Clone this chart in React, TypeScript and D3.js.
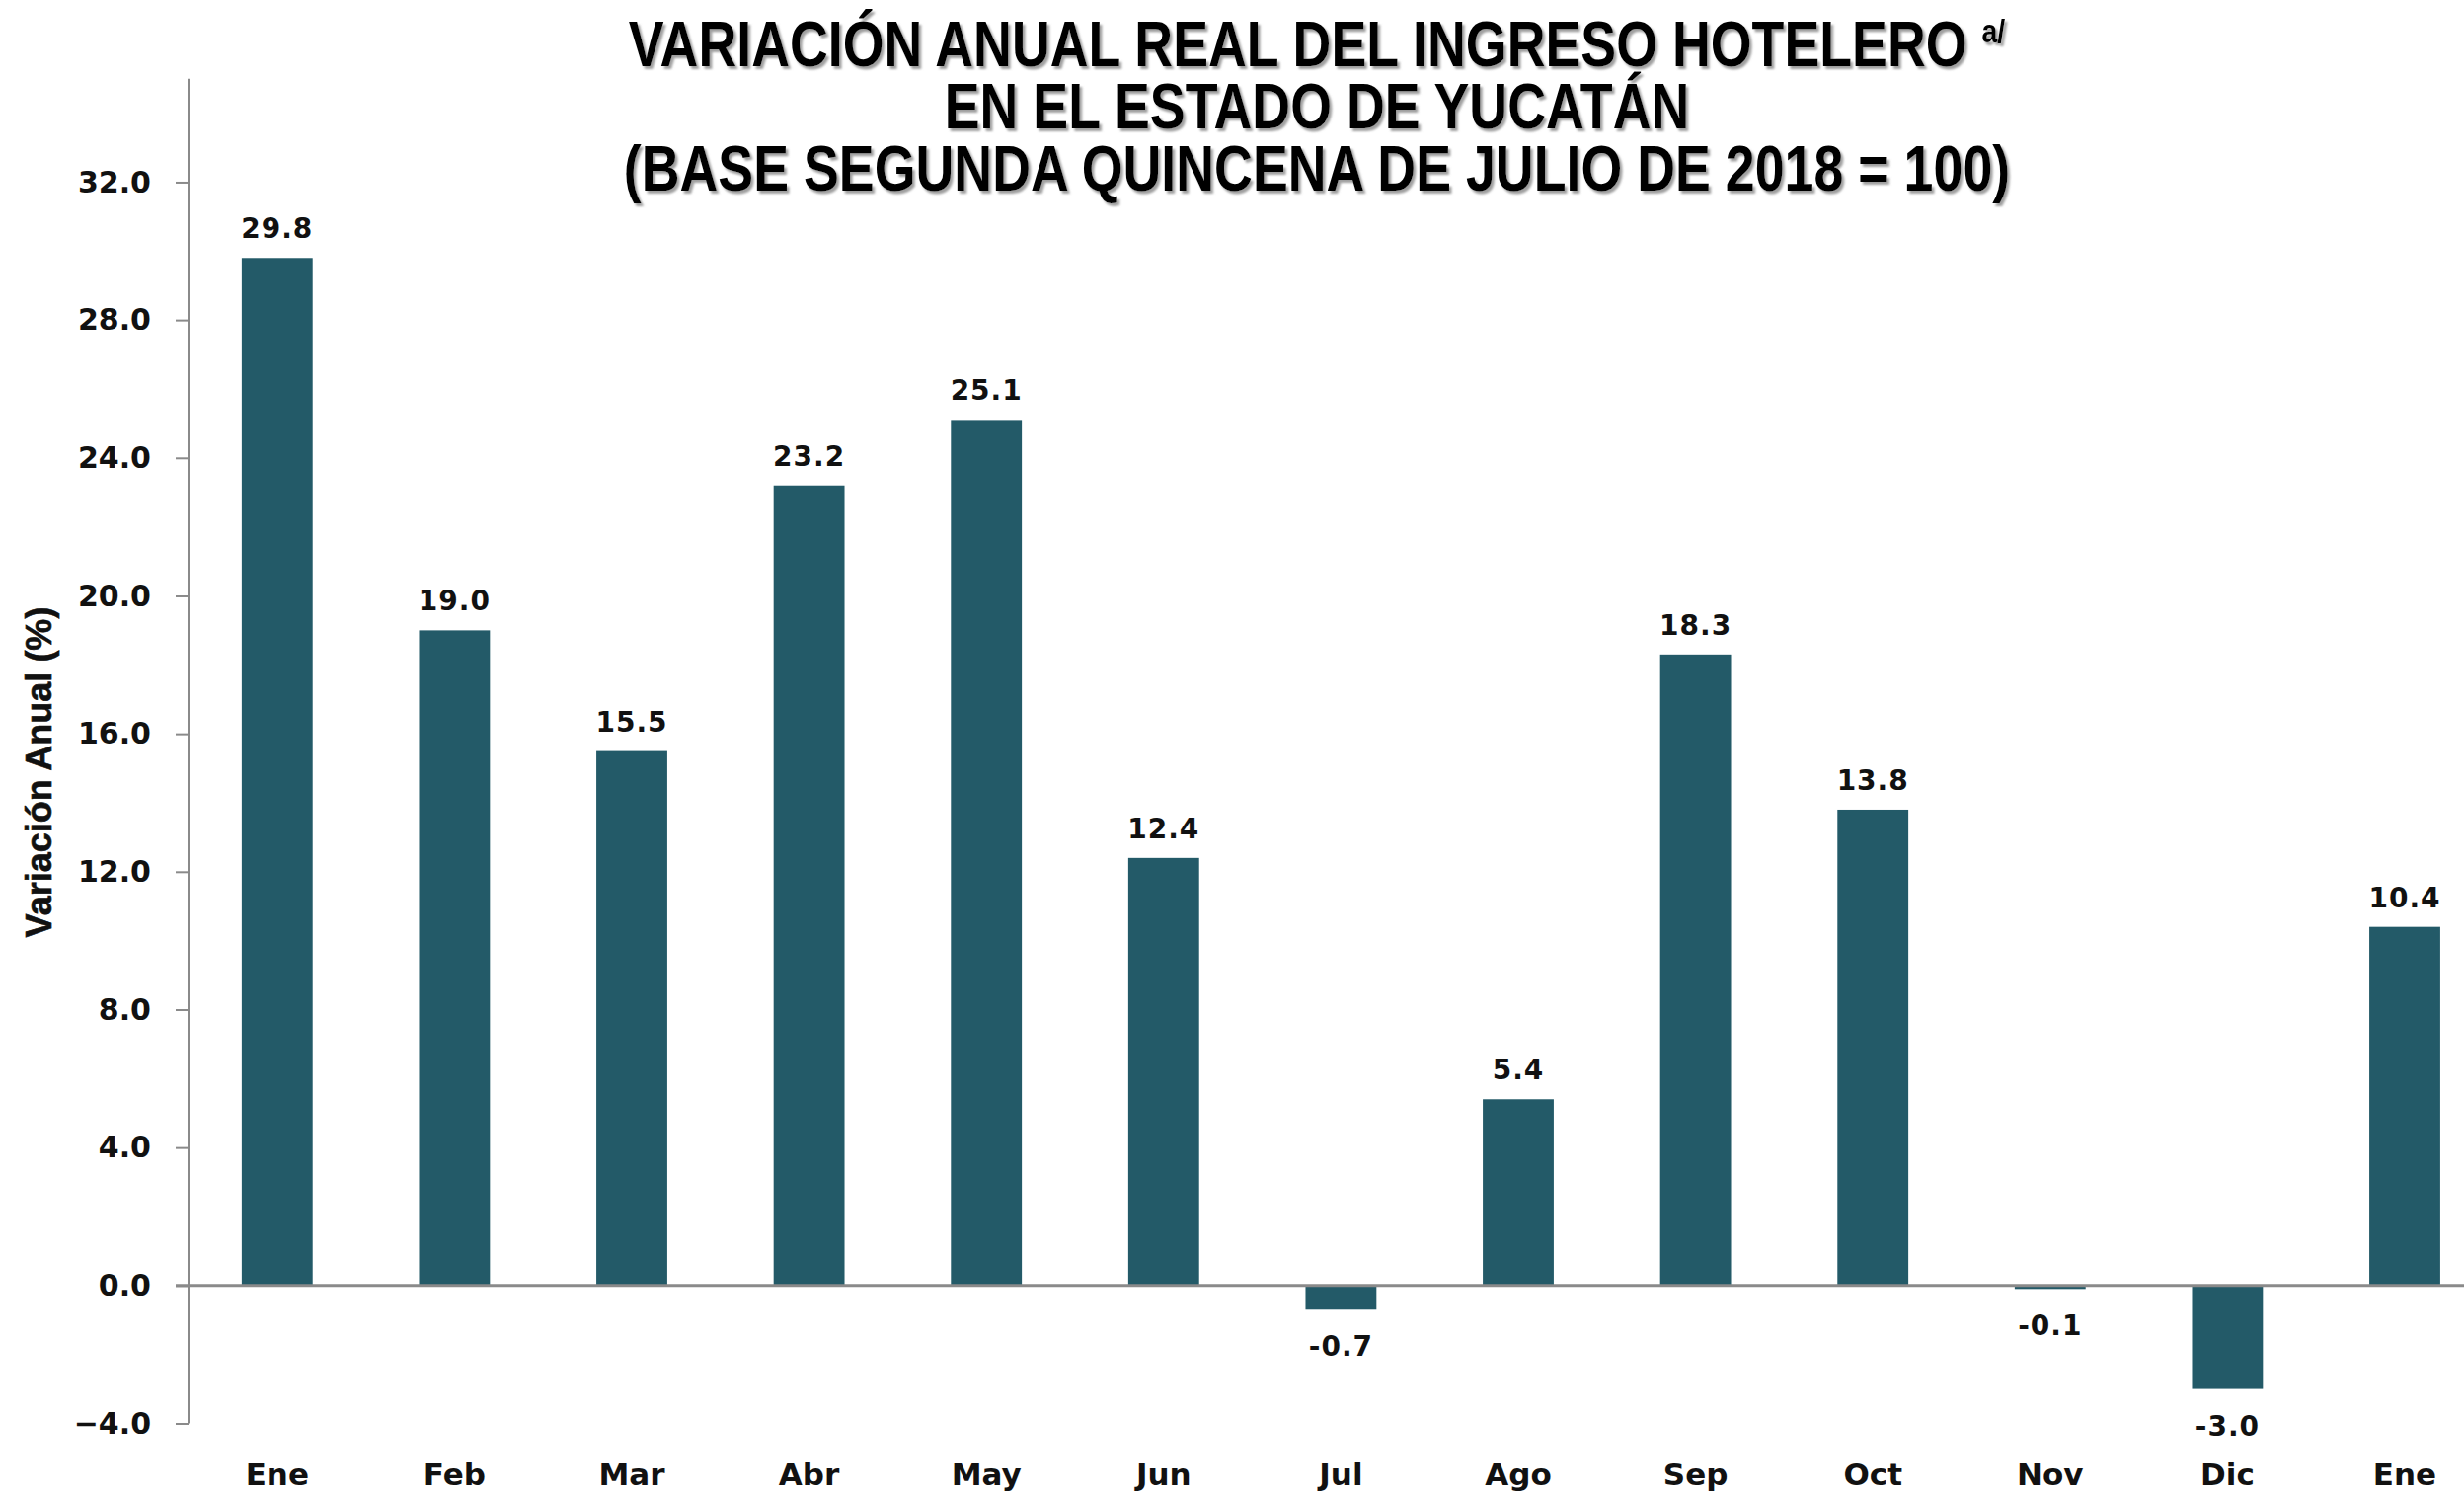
import React, { useEffect, useRef } from 'react';
import * as d3 from 'd3';

// data
const months = ['Ene', 'Feb', 'Mar', 'Abr', 'May', 'Jun', 'Jul', 'Ago', 'Sep', 'Oct', 'Nov', 'Dic', 'Ene'];
const values = [29.8, 19.0, 15.5, 23.2, 25.1, 12.4, -0.7, 5.4, 18.3, 13.8, -0.1, -3.0, 10.4];
const yTicks = [-4, 0, 4, 8, 12, 16, 20, 24, 28, 32];
const titleLines = ['EN EL ESTADO DE YUCATÁN', '(BASE SEGUNDA QUINCENA DE JULIO DE 2018 = 100)'];

const BAR = '#235a68';
const NUM_FONT = '"DejaVu Sans", sans-serif';
const TITLE_FONT = '"Liberation Sans", Arial, sans-serif';

const App = () => {
  const svgRef = useRef<SVGSVGElement | null>(null);

  useEffect(() => {
    document.body.style.margin = '0';
    const svg = d3.select(svgRef.current);
    svg.selectAll('*').remove();
    const width = 2496;
    const height = 1513;
    const axisX = 191;

    const idx = months.map((_, i) => String(i));
    const x = d3.scaleBand()
      .domain(idx)
      .range([axisX, axisX + 13 * 179.6])
      .paddingInner(0.6)
      .paddingOuter(0.3);

    const y = d3.scaleLinear()
      .domain([-4, 35])
      .range([1441.5, 79.7]);

    // shadow for the title
    svg.append('defs').append('filter')
      .attr('id', 'tshadow')
      .attr('x', '-5%').attr('y', '-20%').attr('width', '110%').attr('height', '140%')
      .append('feDropShadow')
        .attr('dx', 3).attr('dy', 3).attr('stdDeviation', 1)
        .attr('flood-color', '#888').attr('flood-opacity', 0.8);

    // title, condensed horizontally
    const title = svg.append('g')
      .attr('transform', 'translate(1334,0) scale(0.84,1)')
      .attr('font-family', TITLE_FONT).attr('font-weight', 'bold')
      .attr('font-size', 64).attr('text-anchor', 'middle')
      .attr('filter', 'url(#tshadow)');
    const t1 = title.append('text').attr('x', 0).attr('y', 67).attr('fill', '#000');
    t1.append('tspan').text('VARIACIÓN ANUAL REAL DEL INGRESO HOTELERO ');
    t1.append('tspan').attr('font-size', 34).attr('dy', -24).text('a/');
    titleLines.forEach((s, i) => {
      title.append('text')
        .attr('x', 0)
        .attr('y', 130 + i * 63)
        .attr('fill', '#000')
        .text(s);
    });

    // y axis
    const yAxis = svg.append('g')
      .attr('transform', `translate(${axisX},0)`)
      .call(d3.axisLeft(y).tickValues(yTicks).tickFormat(d3.format('.1f')).tickSize(13).tickSizeOuter(0).tickPadding(25));
    yAxis.select('.domain').attr('stroke', '#8a8a8a').attr('stroke-width', 2)
      .attr('d', `M0,${y(-4)}V${y(35)}`);
    yAxis.selectAll('.tick line').attr('stroke', '#8a8a8a').attr('stroke-width', 2);
    yAxis.selectAll('.tick text')
      .attr('font-family', NUM_FONT).attr('font-weight', 'bold').attr('font-size', 30).attr('fill', '#111');

    // bars
    svg.append('g').selectAll('rect')
      .data(values)
      .enter().append('rect')
        .attr('x', (d, i) => x(String(i)) as number)
        .attr('width', x.bandwidth())
        .attr('y', d => y(Math.max(0, d)))
        .attr('height', d => Math.abs(y(d) - y(0)))
        .attr('fill', BAR);

    // zero line
    svg.append('line')
      .attr('x1', axisX - 13).attr('x2', width)
      .attr('y1', y(0)).attr('y2', y(0))
      .attr('stroke', '#8a8a8a').attr('stroke-width', 3);

    // value labels
    svg.append('g').selectAll('text')
      .data(values)
      .enter().append('text')
        .attr('x', (d, i) => (x(String(i)) as number) + x.bandwidth() / 2)
        .attr('y', d => d >= 0 ? y(d) - 20 : y(d) + 47)
        .attr('text-anchor', 'middle')
        .attr('font-family', NUM_FONT).attr('font-weight', 'bold').attr('font-size', 28)
        .attr('letter-spacing', 1)
        .attr('fill', '#111')
        .text(d => d.toFixed(1));

    // month labels
    svg.append('g').selectAll('text')
      .data(months)
      .enter().append('text')
        .attr('x', (d, i) => (x(String(i)) as number) + x.bandwidth() / 2)
        .attr('y', 1504)
        .attr('text-anchor', 'middle')
        .attr('font-family', NUM_FONT).attr('font-weight', 'bold').attr('font-size', 31)
        .attr('fill', '#111')
        .text(d => d);

    // y axis title
    svg.append('text')
      .attr('transform', `translate(52,${782}) rotate(-90)`)
      .attr('text-anchor', 'middle')
      .attr('font-family', '"Liberation Sans", Arial, sans-serif').attr('font-weight', 'bold').attr('font-size', 36)
      .attr('stroke', '#111').attr('stroke-width', 0.6)
      .attr('fill', '#111')
      .text('Variación Anual (%)');

    svg.attr('width', width).attr('height', height);
  }, []);

  return (
    <svg ref={svgRef} width="2496" height="1513" style={{ display: 'block', background: '#fff' }}>
    </svg>
  );
};

export default App;
